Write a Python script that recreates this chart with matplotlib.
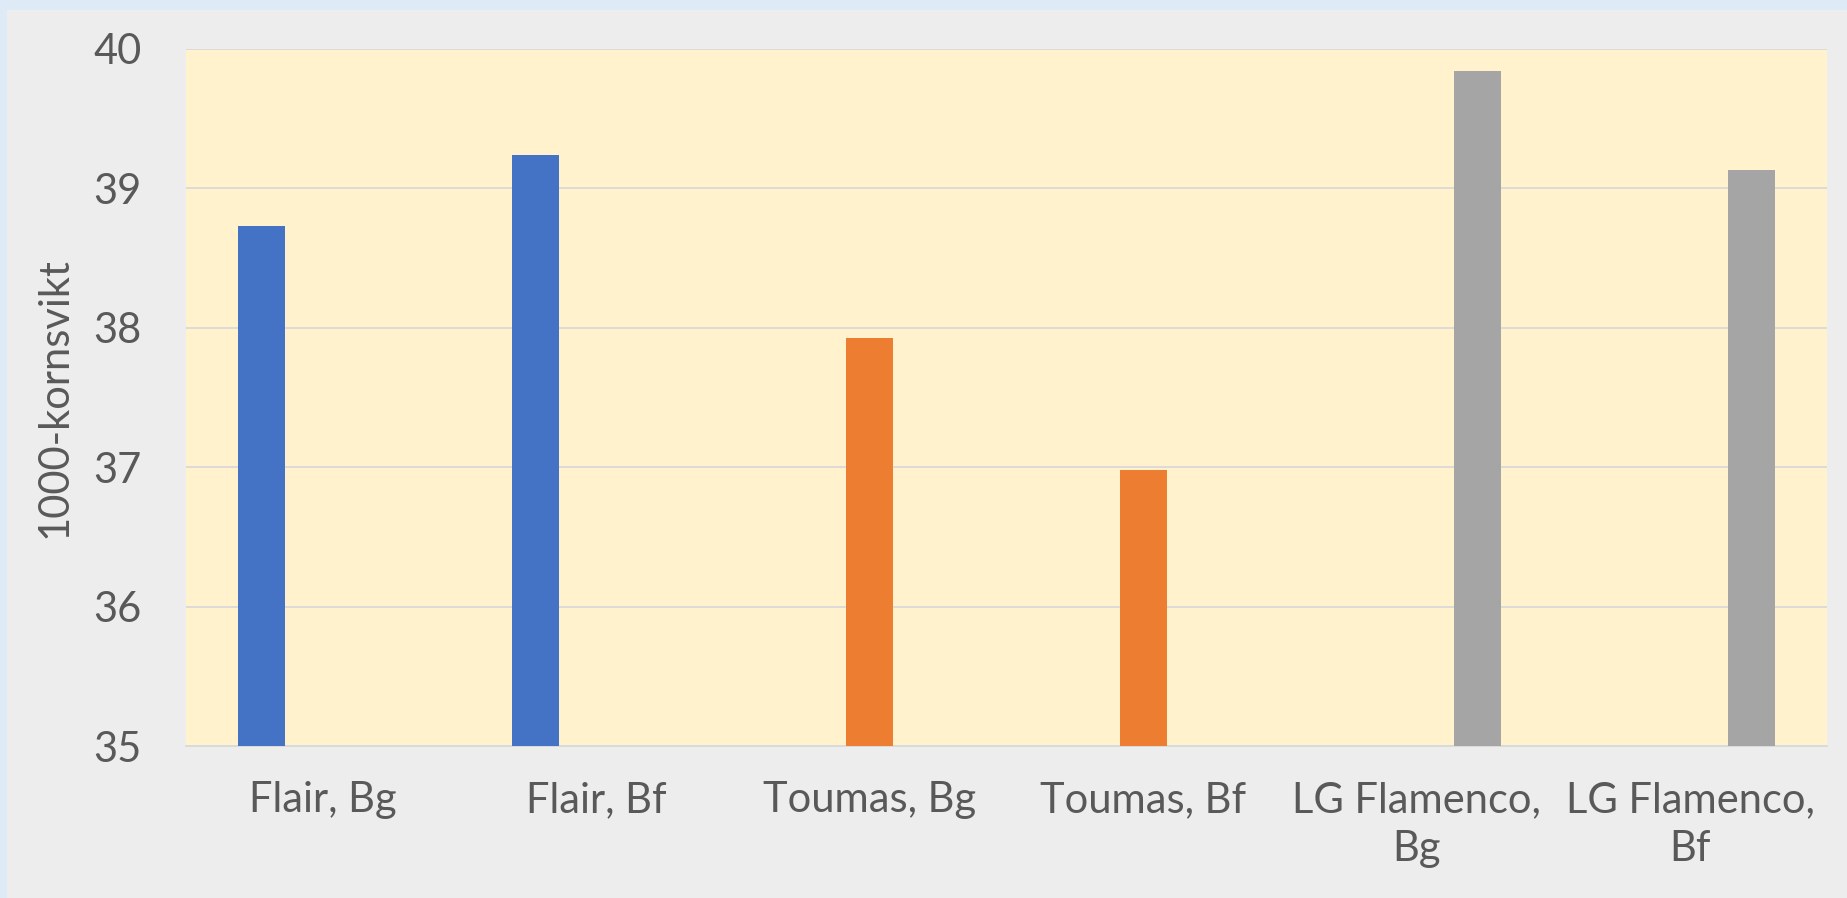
import matplotlib.pyplot as plt
import numpy as np
from matplotlib.patches import Rectangle

plt.rcParams['font.family'] = ['Lato', 'DejaVu Sans']

categories = ['Flair, Bg', 'Flair, Bf', 'Toumas, Bg', 'Toumas, Bf',
              'LG Flamenco,\nBg', 'LG Flamenco,\nBf']
flair = [38.73, 39.24, np.nan, np.nan, np.nan, np.nan]
toumas = [np.nan, np.nan, 37.93, 36.98, np.nan, np.nan]
lg_flamenco = [np.nan, np.nan, np.nan, np.nan, 39.84, 39.13]
series_colors = ['#4472C4', '#ED7D31', '#A5A5A5']
yticks = [35, 36, 37, 38, 39, 40]

text_col = '#595959'

fig = plt.figure(figsize=(18.47, 8.98), dpi=100)
fig.patch.set_facecolor('#DEEAF6')
# grey panel, the blue only shows as a thin strip on left and top
fig.patches.append(Rectangle((7 / 1847, 0), 1, 1 - 10 / 898,
                             transform=fig.transFigure, facecolor='#EDEDED',
                             edgecolor='none', zorder=-10))

ax = fig.add_axes([186 / 1847, 152 / 898, 1641 / 1847, 697 / 898])
ax.set_facecolor('#FFF2CC')

x = np.arange(len(categories))
w = 0.172
off = 0.223
for i, vals in enumerate([flair, toumas, lg_flamenco]):
    vals = np.array(vals)
    ok = ~np.isnan(vals)
    ax.bar(x[ok] + (i - 1) * off, vals[ok] - 35, bottom=35, width=w,
           color=series_colors[i], zorder=3)

ax.set_xlim(-0.5, len(categories) - 0.5)
ax.set_ylim(35, 40)
ax.set_yticks(yticks)
ax.set_xticks(x)
ax.set_xticklabels(categories, linespacing=1.35)
ax.yaxis.grid(True, color='#D9D9D9', linewidth=1.3, zorder=1)
ax.set_axisbelow(True)
for s in ['top', 'right', 'left']:
    ax.spines[s].set_visible(False)
ax.spines['bottom'].set_color('#D9D9D9')
ax.spines['bottom'].set_linewidth(1.3)
ax.tick_params(axis='both', length=0, labelsize=30, labelcolor=text_col)
ax.tick_params(axis='y', pad=32)
ax.tick_params(axis='x', pad=25)
ax.set_ylabel('1000-kornsvikt', fontsize=30, color=text_col, labelpad=14)

fig.savefig('out.png', dpi=100, facecolor=fig.get_facecolor())
